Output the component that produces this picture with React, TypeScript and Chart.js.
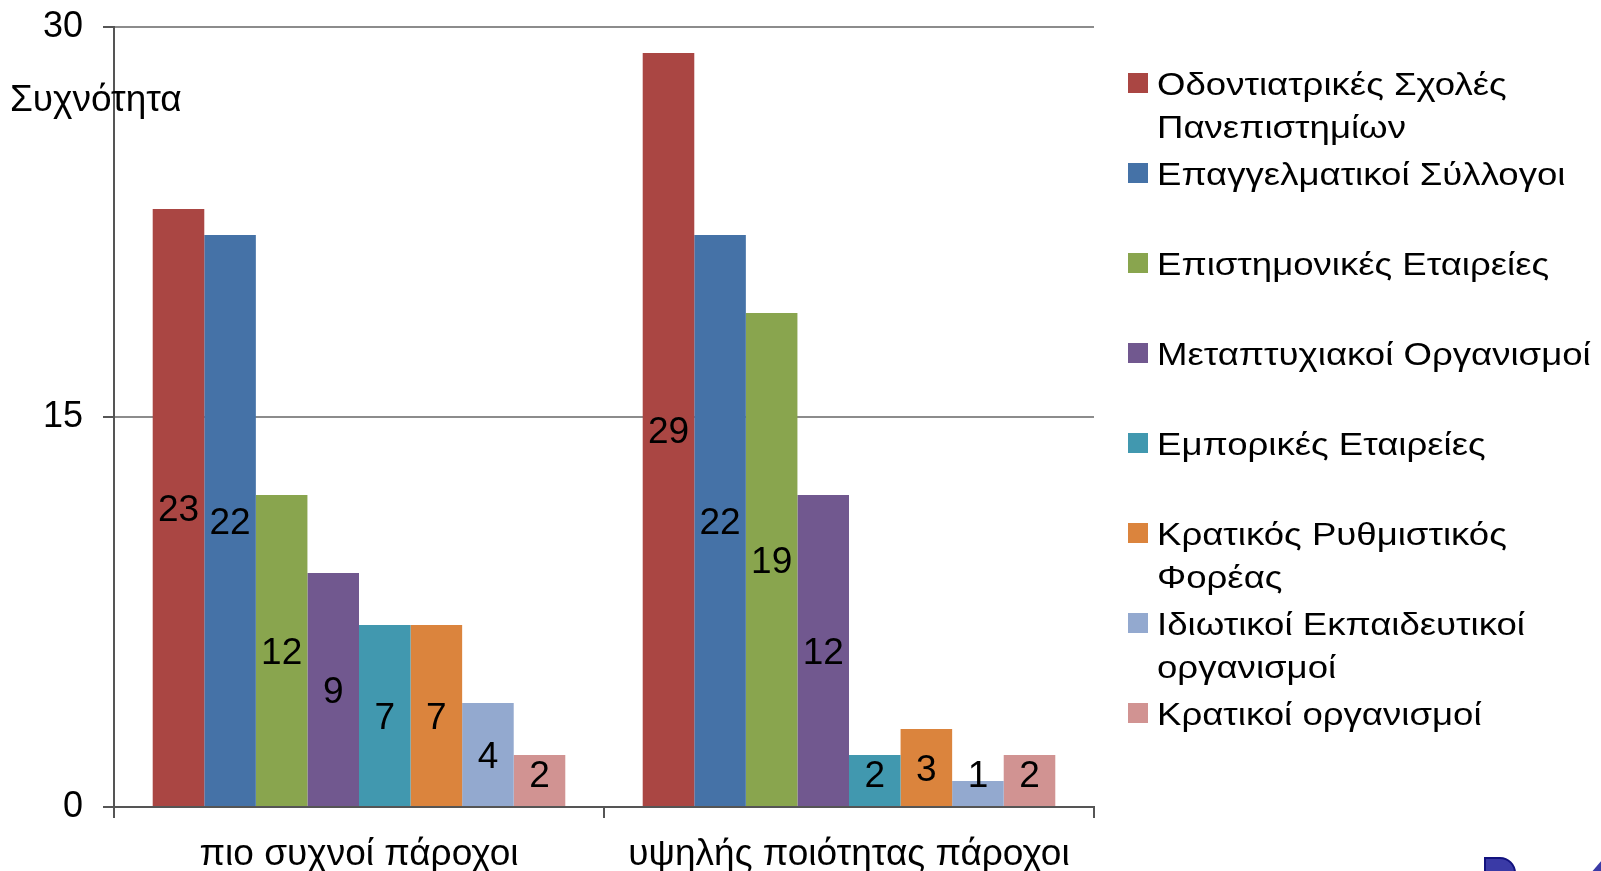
import React, { useEffect, useRef } from "react";
import { Chart, registerables } from "chart.js";

Chart.register(...registerables);

const categories = ["πιο συχνοί πάροχοι", "υψηλής ποιότητας πάροχοι"];
const seriesNames = [
  "Οδοντιατρικές Σχολές\nΠανεπιστημίων",
  "Επαγγελματικοί Σύλλογοι",
  "Επιστημονικές Εταιρείες",
  "Μεταπτυχιακοί Οργανισμοί",
  "Εμπορικές Εταιρείες",
  "Κρατικός Ρυθμιστικός\nΦορέας",
  "Ιδιωτικοί Εκπαιδευτικοί\nοργανισμοί",
  "Κρατικοί οργανισμοί",
];
const seriesColors = [
  "#AA4643",
  "#4572A7",
  "#89A54E",
  "#71588F",
  "#4198AF",
  "#DB843D",
  "#93A9CF",
  "#D19392",
];
const mostFrequent = [23, 22, 12, 9, 7, 7, 4, 2];
const highQuality = [29, 22, 19, 12, 2, 3, 1, 2];
const yTicks = [0, 15, 30];
const yAxisTitle = "Συχνότητα";

const FONT = "'Liberation Sans', Arial, sans-serif";

const dataLabelPlugin = {
  id: "dataLabels",
  afterDatasetsDraw(chart: any) {
    const ctx = chart.ctx;
    ctx.save();
    ctx.font = `37px ${FONT}`;
    ctx.fillStyle = "#000";
    ctx.textAlign = "center";
    ctx.textBaseline = "middle";
    chart.data.datasets.forEach((ds: any, di: number) => {
      const meta = chart.getDatasetMeta(di);
      meta.data.forEach((el: any, i: number) => {
        const v = ds.data[i];
        const cy = Math.min((el.y + el.base) / 2, el.base - 32);
        ctx.fillText(String(v), el.x, cy + 3);
      });
    });
    ctx.restore();
  },
};

export default function App() {
  const ref = useRef<HTMLCanvasElement | null>(null);

  useEffect(() => {
    if (!ref.current) return;
    const datasets = seriesNames.map((name, s) => ({
      label: name.replace("\n", " "),
      data: [mostFrequent[s], highQuality[s]],
      backgroundColor: seriesColors[s],
      borderWidth: 0,
      categoryPercentage: 0.842,
      barPercentage: 1.0,
    }));
    const chart = new Chart(ref.current, {
      type: "bar",
      data: { labels: categories, datasets },
      plugins: [dataLabelPlugin],
      options: {
        animation: false,
        responsive: false,
        maintainAspectRatio: false,
        layout: { padding: { left: 0, top: 27, right: 507, bottom: 0 } },
        plugins: { legend: { display: false }, tooltip: { enabled: false } },
        scales: {
          x: {
            afterFit: (scale: any) => {
              scale.height = 64;
              scale.paddingLeft = 0;
              scale.paddingRight = 0;
            },
            grid: {
              offset: true,
              drawOnChartArea: true,
              color: (c: any) => (c.index === 2 ? "#8c8c8c" : "rgba(0,0,0,0)"),
              tickColor: "#555555",
              tickLength: 11,
              lineWidth: 2,
            },
            border: { color: "#555555", width: 2 },
            ticks: {
              color: "#000",
              font: { family: FONT, size: 37 },
              padding: 15,
            },
          },
          y: {
            min: 0,
            max: 30,
            afterFit: (scale: any) => {
              scale.width = 114;
              scale.paddingTop = 0;
              scale.paddingBottom = 0;
            },
            afterBuildTicks: (scale: any) => {
              scale.ticks = yTicks.map((v) => ({ value: v }));
            },
            grid: {
              color: "#8c8c8c",
              tickColor: "#555555",
              tickLength: 11,
              lineWidth: 2,
            },
            border: { color: "#555555", width: 2 },
            ticks: {
              color: "#000",
              font: { family: FONT, size: 36 },
              padding: 20,
            },
          },
        },
      },
    });
    return () => chart.destroy();
  }, []);

  return (
    <div
      style={{
        position: "absolute",
        left: 0,
        top: 0,
        width: 1601,
        height: 871,
        overflow: "hidden",
        background: "#fff",
        fontFamily: FONT,
      }}
    >
      <canvas ref={ref} width={1601} height={871} style={{ display: "block" }} />
      <div
        style={{
          position: "absolute",
          left: 10,
          top: 77,
          fontSize: 37,
          lineHeight: "44px",
          color: "#000",
          whiteSpace: "nowrap",
        }}
      >
        {yAxisTitle}
      </div>
      {seriesNames.map((name, i) => (
        <div
          key={i}
          style={{
            position: "absolute",
            left: 1128,
            top: 63 + i * 90,
            whiteSpace: "nowrap",
          }}
        >
          <div
            style={{
              position: "absolute",
              left: 0,
              top: 10,
              width: 20,
              height: 20,
              background: seriesColors[i],
            }}
          />
          <div
            style={{
              position: "absolute",
              left: 29,
              top: 0,
              fontSize: 31,
              lineHeight: "43px",
              color: "#000",
              transform: "scaleX(1.18)",
              transformOrigin: "0 0",
            }}
          >
            {name.split("\n").map((ln, k) => (
              <div key={k}>{ln}</div>
            ))}
          </div>
        </div>
      ))}
      <div
        style={{
          position: "absolute",
          left: 1484,
          top: 857,
          width: 28,
          height: 24,
          background: "#3a3aa6",
          border: "2px solid #12127e",
          borderTopRightRadius: 16,
        }}
      />
      <div
        style={{
          position: "absolute",
          left: 1590,
          top: 860,
          width: 0,
          height: 0,
          borderLeft: "12px solid transparent",
          borderBottom: "14px solid #3a3aa6",
        }}
      />
    </div>
  );
}
